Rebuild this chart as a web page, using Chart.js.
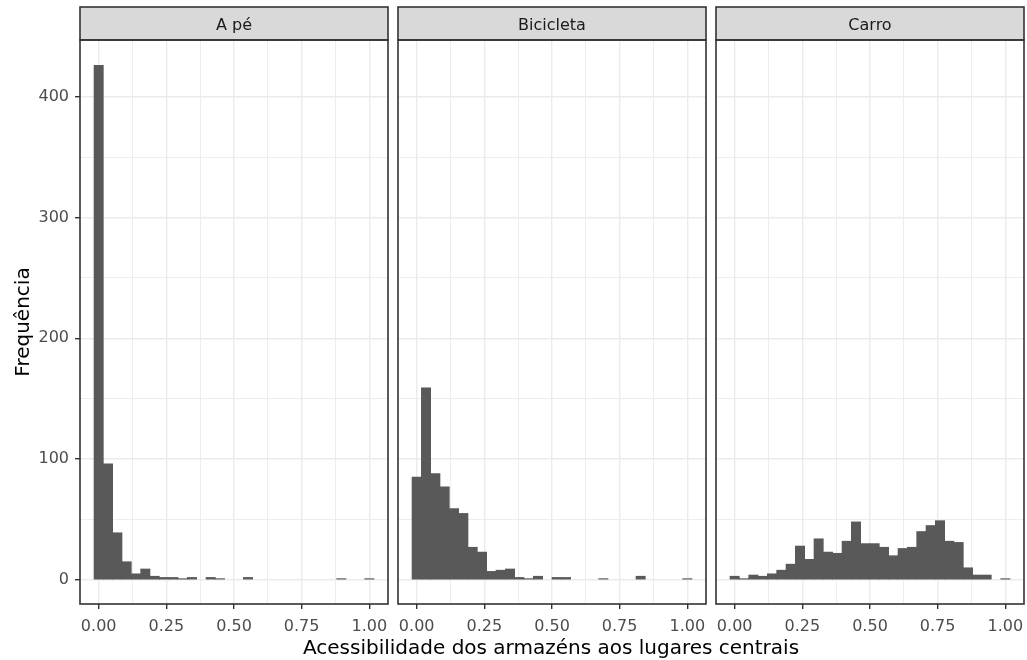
<!DOCTYPE html>
<html>
<head>
<meta charset="utf-8">
<script src="https://cdn.jsdelivr.net/npm/chart.js@4"></script>
<style>
  html, body { margin: 0; padding: 0; background: #fff; }
  #wrap { position: relative; width: 1027px; height: 660px; overflow: hidden; }
  .facet { position: absolute; top: 0; height: 660px; }
  #xTitle {
    position: absolute; left: 251px; width: 600px; top: 635px;
    text-align: center; font: 20px/24px "DejaVu Sans", "Liberation Sans", Arial, sans-serif; color: #000;
  }
</style>
</head>
<body>
<div id="wrap">
  <div class="facet" style="left:0;width:390px"><canvas id="facetAPe"></canvas></div>
  <div class="facet" style="left:396px;width:312px"><canvas id="facetBici"></canvas></div>
  <div class="facet" style="left:714px;width:313px"><canvas id="facetCarro"></canvas></div>
  <div id="xTitle">Acessibilidade dos armazéns aos lugares centrais</div>
</div>
<script>
// bin centres (30 bins over 0..1)
const binCenters = [0.0000, 0.0345, 0.0690, 0.1034, 0.1379, 0.1724, 0.2069, 0.2414, 0.2759, 0.3103,
                    0.3448, 0.3793, 0.4138, 0.4483, 0.4828, 0.5172, 0.5517, 0.5862, 0.6207, 0.6552,
                    0.6897, 0.7241, 0.7586, 0.7931, 0.8276, 0.8621, 0.8966, 0.9310, 0.9655, 1.0000];

const countsAPe = [426, 96, 39, 15, 5, 9, 3, 2, 2, 1, 2, 0, 2, 1, 0, 0, 2, 0, 0, 0, 0, 0, 0, 0, 0, 0, 1, 0, 0, 1];
const countsBicicleta = [85, 159, 88, 77, 59, 55, 27, 23, 7, 8, 9, 2, 1, 3, 0, 2, 2, 0, 0, 0, 1, 0, 0, 0, 3, 0, 0, 0, 0, 1];
const countsCarro = [3, 1, 4, 3, 5, 8, 13, 28, 17, 34, 23, 22, 32, 48, 30, 30, 27, 20, 26, 27, 40, 45, 49, 32, 31, 10, 4, 4, 0, 1];

const xTicks = [0, 0.125, 0.25, 0.375, 0.5, 0.625, 0.75, 0.875, 1];
const xMajor = [0, 0.25, 0.5, 0.75, 1];
const yTicks = [0, 50, 100, 150, 200, 250, 300, 350, 400];
const yMajor = [0, 100, 200, 300, 400];

const FONT = '"DejaVu Sans", "Liberation Sans", Arial, sans-serif';
Chart.defaults.font.family = FONT;

const isIn = (list, v) => list.some(m => Math.abs(m - v) < 1e-9);

// grey strip + dark panel border, like ggplot's theme_bw facets
const facetFrame = {
  id: 'facetFrame',
  afterDraw(chart, args, opts) {
    const { ctx, chartArea: a } = chart;
    const stripTop = 7;
    ctx.save();
    ctx.fillStyle = '#D9D9D9';
    ctx.fillRect(a.left, stripTop, a.right - a.left, a.top - stripTop);
    ctx.strokeStyle = '#333333';
    ctx.lineWidth = 1.6;
    ctx.strokeRect(a.left, stripTop, a.right - a.left, a.top - stripTop);
    ctx.strokeRect(a.left, a.top, a.right - a.left, a.bottom - a.top);
    ctx.fillStyle = '#1A1A1A';
    ctx.font = '16px ' + FONT;
    ctx.textAlign = 'center';
    ctx.textBaseline = 'middle';
    ctx.fillText(opts.label, (a.left + a.right) / 2, 26);
    ctx.restore();
  }
};

function makeFacet(id, label, counts, opts) {
  // empty bins draw nothing
  const data = binCenters.map((x, i) => ({ x: x, y: counts[i] === 0 ? null : counts[i] }));
  return new Chart(document.getElementById(id), {
    type: 'bar',
    data: {
      datasets: [{
        data: data,
        backgroundColor: '#595959',
        borderWidth: 0,
        barPercentage: 1,
        categoryPercentage: 1
      }]
    },
    options: {
      responsive: true,
      maintainAspectRatio: false,
      animation: false,
      layout: { padding: { left: opts.padLeft, right: opts.padRight, top: 40, bottom: 0 } },
      plugins: {
        legend: { display: false },
        tooltip: { enabled: false },
        facetFrame: { label: label }
      },
      scales: {
        x: {
          type: 'linear',
          min: -0.069,
          max: 1.069,
          offset: false,
          border: { display: false },
          afterBuildTicks: s => { s.ticks = xTicks.map(v => ({ value: v })); },
          afterFit: s => { s.height = 56; s.paddingLeft = 0; s.paddingRight = 0; },
          ticks: {
            autoSkip: false,
            maxRotation: 0,
            padding: 8,
            color: '#4D4D4D',
            font: { size: 16 },
            callback: v => isIn(xMajor, v) ? v.toFixed(2) : ''
          },
          grid: {
            offset: false,
            color: '#EBEBEB',
            lineWidth: c => (c.tick && isIn(xMajor, c.tick.value)) ? 1.4 : 0.9,
            tickColor: c => (c.tick && isIn(xMajor, c.tick.value)) ? '#333333' : 'rgba(0,0,0,0)',
            tickWidth: 1.4,
            tickLength: 5
          }
        },
        y: {
          min: -20,
          max: 447,
          border: { display: false },
          afterBuildTicks: s => { s.ticks = yTicks.map(v => ({ value: v })); },
          afterFit: s => { s.width = opts.yWidth; s.paddingTop = 0; s.paddingBottom = 0; },
          ticks: {
            display: opts.yLabels,
            padding: 6,
            color: '#4D4D4D',
            font: { size: 16 },
            callback: v => isIn(yMajor, v) ? String(v) : ''
          },
          grid: {
            color: '#EBEBEB',
            lineWidth: c => (c.tick && isIn(yMajor, c.tick.value)) ? 1.4 : 0.9,
            tickColor: c => (opts.yLabels && c.tick && isIn(yMajor, c.tick.value)) ? '#333333' : 'rgba(0,0,0,0)',
            tickWidth: 1.4,
            tickLength: 5,
            drawTicks: opts.yLabels
          },
          title: {
            display: opts.yLabels,
            text: 'Frequência',
            color: '#000000',
            font: { size: 20 },
            padding: { top: 12, bottom: 0 }
          }
        }
      }
    },
    plugins: [facetFrame]
  });
}

makeFacet('facetAPe', 'A pé', countsAPe, { padLeft: 0, padRight: 2, yWidth: 80, yLabels: true });
makeFacet('facetBici', 'Bicicleta', countsBicicleta, { padLeft: 2, padRight: 2, yWidth: 0, yLabels: false });
makeFacet('facetCarro', 'Carro', countsCarro, { padLeft: 2, padRight: 3, yWidth: 0, yLabels: false });
</script>
</body>
</html>
